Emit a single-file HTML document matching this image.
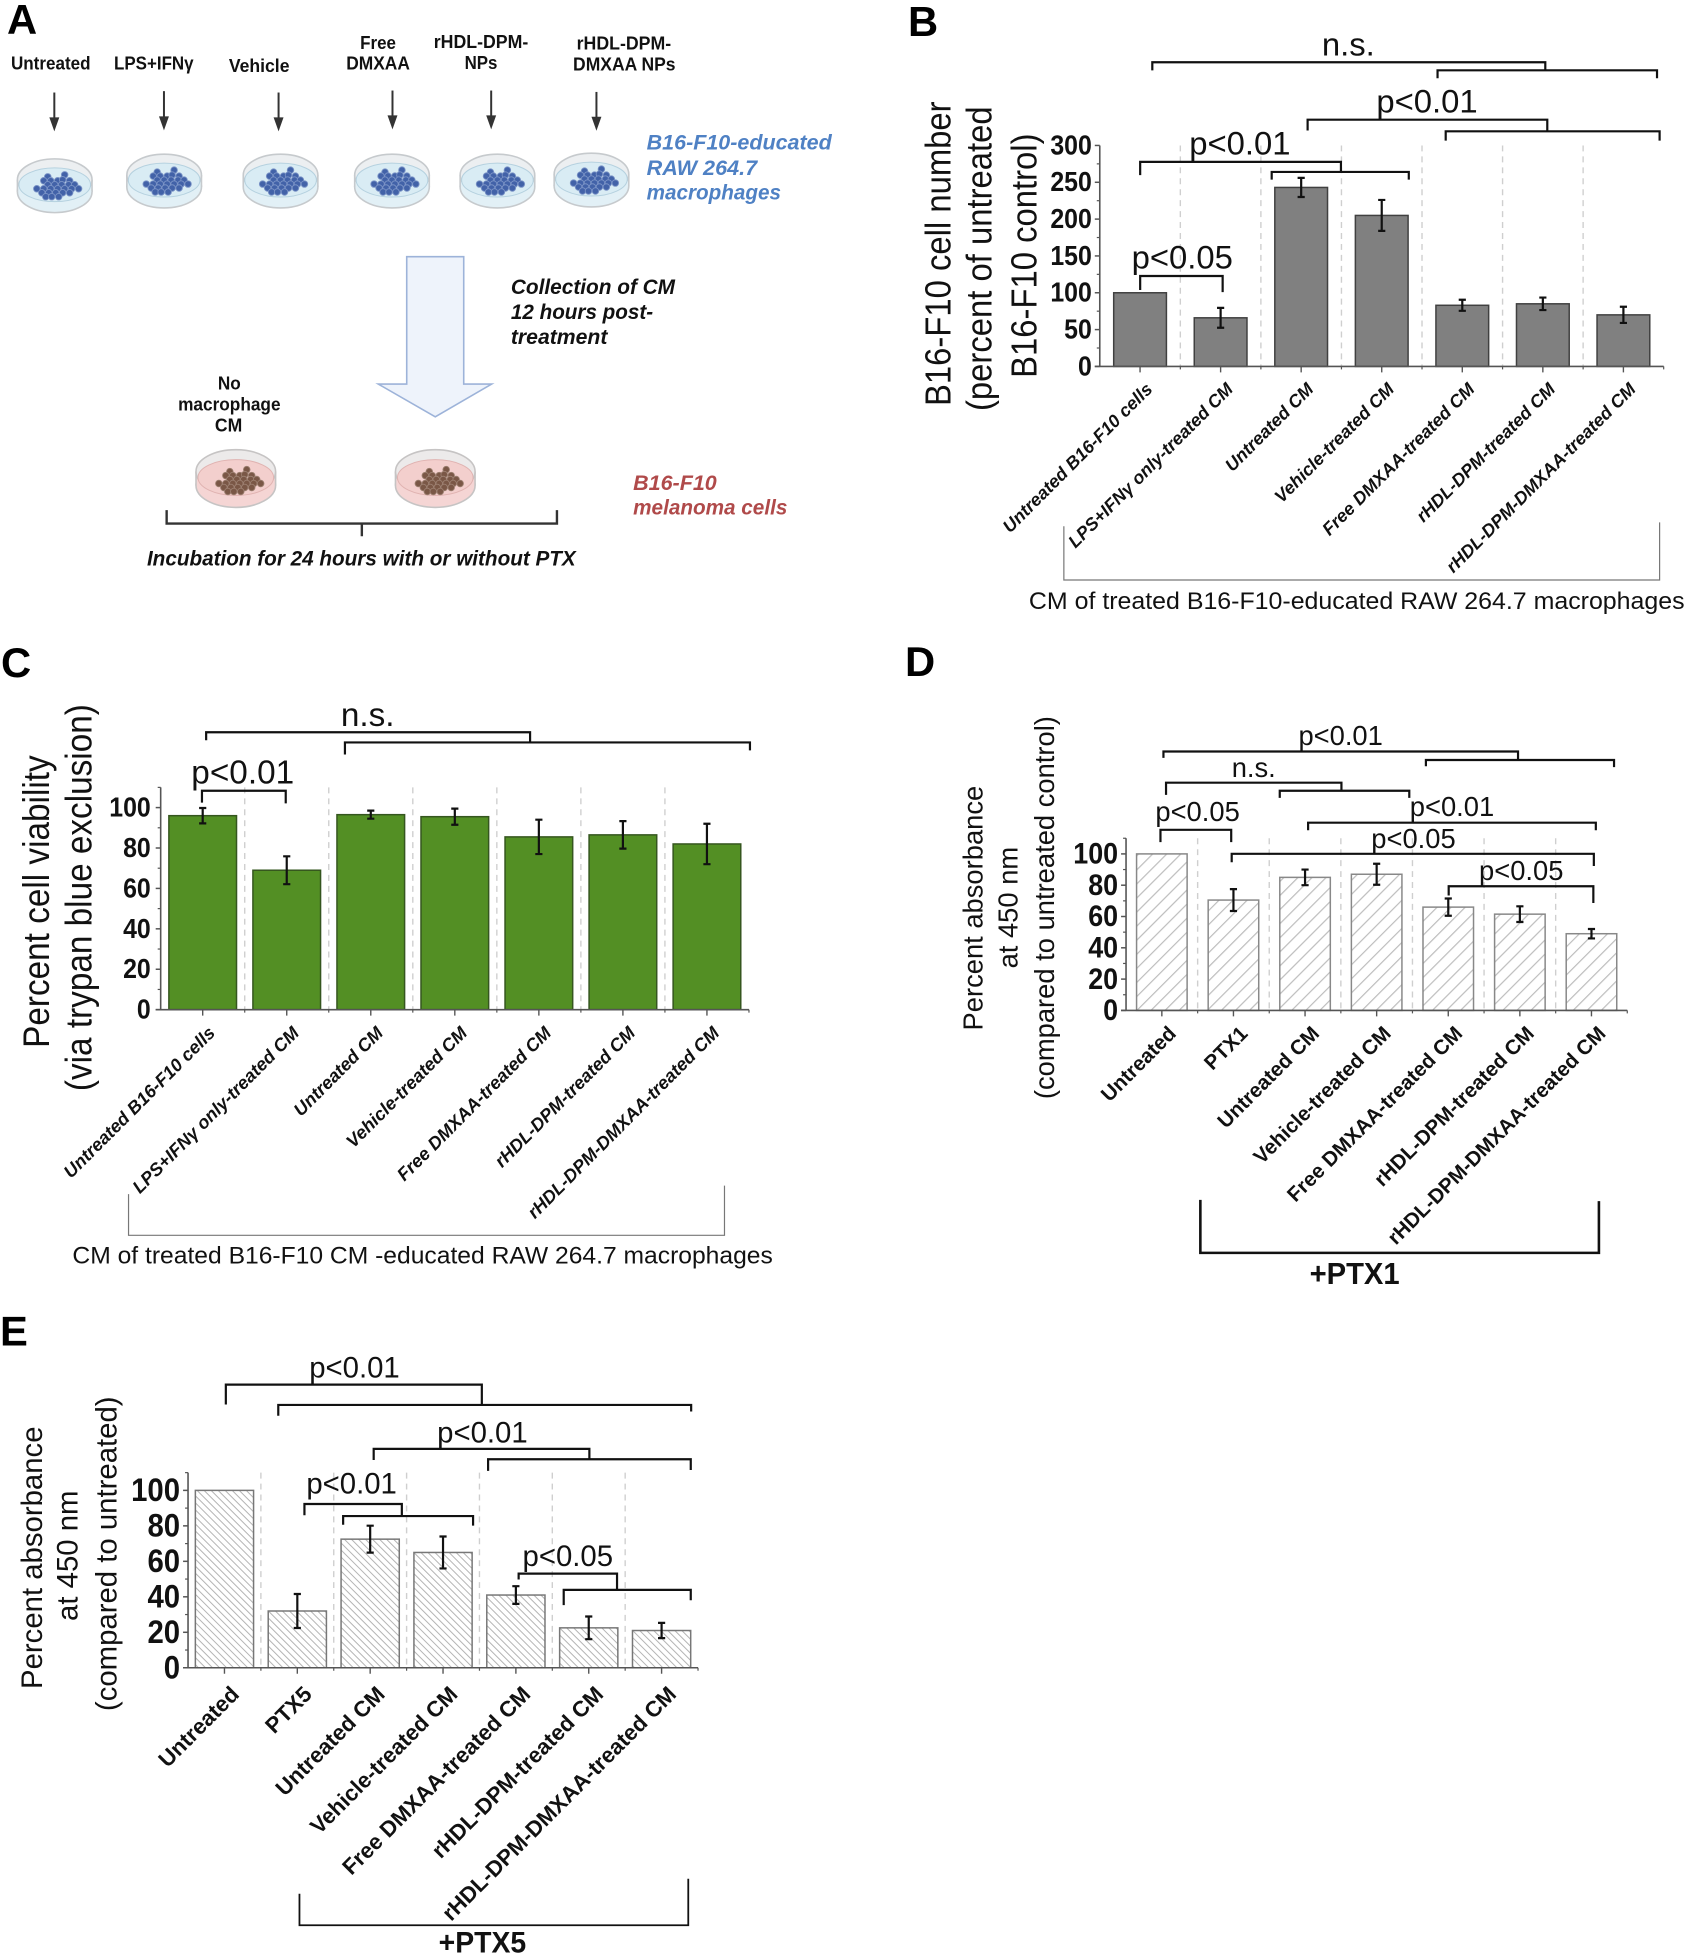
<!DOCTYPE html>
<html lang="en">
<head>
<meta charset="utf-8">
<title>Macrophage conditioned media figure</title>
<style>
html,body{margin:0;padding:0;background:#fff}
svg{display:block}
text{font-family:"Liberation Sans",sans-serif;fill:#111}
.lb{font-weight:bold;font-size:19px}
.it{font-weight:bold;font-style:italic;font-size:21.5px}
.pl{font-weight:bold;font-size:42px;fill:#000}
.br{fill:none;stroke:#111;stroke-width:2.2}
</style>
</head>
<body>
<svg id="figure" xmlns="http://www.w3.org/2000/svg" width="1693" height="1960" viewBox="0 0 1693 1960">
<defs>
<pattern id="hatch-d" patternUnits="userSpaceOnUse" width="10" height="10" patternTransform="rotate(45)">
<rect width="10" height="10" fill="#fff"/><line x1="0" y1="0" x2="0" y2="10" stroke="#bdbdbd" stroke-width="2.4"/>
</pattern>
<pattern id="hatch-e" patternUnits="userSpaceOnUse" width="5" height="5" patternTransform="rotate(-45)">
<rect width="5" height="5" fill="#fff"/><line x1="0" y1="0" x2="0" y2="5" stroke="#b4b4b4" stroke-width="2"/>
</pattern>
<g id="cells" stroke-width="0.9">
<circle cx="-9" cy="-9" r="3.3"/><circle cx="8" cy="-11" r="3.3"/><circle cx="-13" cy="-5" r="3.3"/><circle cx="-6" cy="-5" r="3.3"/><circle cx="1" cy="-5" r="3.3"/><circle cx="6" cy="-6" r="3.3"/><circle cx="13" cy="-5" r="3.3"/>
<circle cx="-9" cy="-1" r="3.3"/><circle cx="-2" cy="-1" r="3.3"/><circle cx="5" cy="-1" r="3.3"/><circle cx="12" cy="-1" r="3.3"/><circle cx="18" cy="-1" r="3.3"/>
<circle cx="-20" cy="3" r="3.3"/><circle cx="-13" cy="3" r="3.3"/><circle cx="-6" cy="3" r="3.3"/><circle cx="1" cy="3" r="3.3"/><circle cx="8" cy="3" r="3.3"/><circle cx="15" cy="3" r="3.3"/><circle cx="22" cy="3" r="3.3"/>
<circle cx="-15" cy="7" r="3.3"/><circle cx="-8" cy="7" r="3.3"/><circle cx="-1" cy="7" r="3.3"/><circle cx="6" cy="7" r="3.3"/><circle cx="13" cy="7" r="3.3"/>
<circle cx="-11" cy="11" r="3.3"/><circle cx="-5" cy="11" r="3.3"/><circle cx="2" cy="11" r="3.3"/>
</g>
<g id="dish-blue">
<ellipse cx="0" cy="6" rx="37.5" ry="21" fill="#e2f0f6" stroke="#c6cacd" stroke-width="1.6"/>
<rect x="-37.5" y="-6" width="75" height="12" fill="#e2f0f6"/>
<line x1="-37.5" y1="-6" x2="-37.5" y2="6" stroke="#c6cacd" stroke-width="1.6"/><line x1="37.5" y1="-6" x2="37.5" y2="6" stroke="#c6cacd" stroke-width="1.6"/>
<ellipse cx="0" cy="-6" rx="37.5" ry="21" fill="#eceff1" stroke="#c6cacd" stroke-width="1.6"/>
<ellipse cx="0" cy="-1" rx="36" ry="17" fill="#d9ecf4" stroke="#b5d1df" stroke-width="1"/>
<use href="#cells" fill="#4262a8" stroke="#7a93c6" x="2" y="0"/>
</g>
<g id="dish-pink">
<ellipse cx="0" cy="7" rx="40" ry="22" fill="#f5d5d4" stroke="#c6c4c4" stroke-width="1.6"/>
<rect x="-40" y="-7" width="80" height="14" fill="#f5d5d4"/>
<line x1="-40" y1="-7" x2="-40" y2="7" stroke="#c6c4c4" stroke-width="1.6"/><line x1="40" y1="-7" x2="40" y2="7" stroke="#c6c4c4" stroke-width="1.6"/>
<ellipse cx="0" cy="-7" rx="40" ry="22" fill="#eceaea" stroke="#c6c4c4" stroke-width="1.6"/>
<ellipse cx="0" cy="-1" rx="38" ry="18" fill="#f3cfcd" stroke="#e0b3b1" stroke-width="1"/>
<use href="#cells" fill="#7a5746" stroke="#9c7f70" x="3" y="2"/>
</g>
</defs>

<!-- PANEL A -->
<g id="panel-a" transform="translate(0,0) scale(.9949)">
<text class="pl" x="7" y="34">A</text>
<text class="lb" x="11" y="70" textLength="80" lengthAdjust="spacingAndGlyphs">Untreated</text>
<text class="lb" x="114.6" y="70" textLength="80" lengthAdjust="spacingAndGlyphs">LPS+IFNγ</text>
<text class="lb" x="230" y="72.4" textLength="61" lengthAdjust="spacingAndGlyphs">Vehicle</text>
<text class="lb" x="362" y="49.3" textLength="36" lengthAdjust="spacingAndGlyphs">Free</text>
<text class="lb" x="348" y="70" textLength="64" lengthAdjust="spacingAndGlyphs">DMXAA</text>
<text class="lb" x="436" y="48.5" textLength="95" lengthAdjust="spacingAndGlyphs">rHDL-DPM-</text>
<text class="lb" x="467" y="69.3" textLength="33" lengthAdjust="spacingAndGlyphs">NPs</text>
<text class="lb" x="579.6" y="50" textLength="95" lengthAdjust="spacingAndGlyphs">rHDL-DPM-</text>
<text class="lb" x="576" y="70.8" textLength="103" lengthAdjust="spacingAndGlyphs">DMXAA NPs</text>

<g stroke="#333" stroke-width="2" fill="#333">
<path d="M54.6 93V120"/><path d="M49.6 118h10l-5 14z" stroke="none"/>
<path d="M164.8 91.6V118"/><path d="M159.8 117h10l-5 14z" stroke="none"/>
<path d="M280 93V120"/><path d="M275 118h10l-5 14z" stroke="none"/>
<path d="M394.5 91V118"/><path d="M389.5 116h10l-5 14z" stroke="none"/>
<path d="M493.7 91V118"/><path d="M488.7 116h10l-5 14z" stroke="none"/>
<path d="M599.5 92.4V119"/><path d="M594.5 117.4h10l-5 14z" stroke="none"/>
</g>

<use href="#dish-blue" x="55" y="186.7"/>
<use href="#dish-blue" x="165" y="182"/>
<use href="#dish-blue" x="282" y="182"/>
<use href="#dish-blue" x="394" y="182"/>
<use href="#dish-blue" x="500" y="182"/>
<use href="#dish-blue" x="594.5" y="181"/>

<g style="fill:#4f81c4">
<text class="it" x="650" y="150.5" textLength="186" lengthAdjust="spacingAndGlyphs" style="fill:#4f81c4">B16-F10-educated</text>
<text class="it" x="650" y="175.8" textLength="111" lengthAdjust="spacingAndGlyphs" style="fill:#4f81c4">RAW 264.7</text>
<text class="it" x="650" y="200.5" textLength="135" lengthAdjust="spacingAndGlyphs" style="fill:#4f81c4">macrophages</text>
</g>

<path d="M408.8 258H466.1V386H494.2L437.5 419L380.2 386H408.8Z" fill="#eef3fb" stroke="#9db3d9" stroke-width="1.6"/>
<text class="it" x="513.5" y="295.7" textLength="165" lengthAdjust="spacingAndGlyphs">Collection of CM</text>
<text class="it" x="513.5" y="320.7" textLength="143" lengthAdjust="spacingAndGlyphs">12 hours post-</text>
<text class="it" x="513.5" y="345.7" textLength="97" lengthAdjust="spacingAndGlyphs">treatment</text>

<text class="lb" x="219" y="391.5" textLength="23" lengthAdjust="spacingAndGlyphs">No</text>
<text class="lb" x="179" y="412.5" textLength="103" lengthAdjust="spacingAndGlyphs">macrophage</text>
<text class="lb" x="216" y="433.5" textLength="27.5" lengthAdjust="spacingAndGlyphs">CM</text>

<use href="#dish-pink" x="237" y="481"/>
<use href="#dish-pink" x="437.5" y="481"/>

<text class="it" x="636.4" y="492.3" textLength="84" lengthAdjust="spacingAndGlyphs" style="fill:#b04a4a">B16-F10</text>
<text class="it" x="636.4" y="517.3" textLength="155" lengthAdjust="spacingAndGlyphs" style="fill:#b04a4a">melanoma cells</text>

<path d="M167.5 512.8V526.3H559.8V512.8M363.7 526.3V539" fill="none" stroke="#333" stroke-width="2.4"/>
<text class="it" x="147.7" y="568.5" textLength="431" lengthAdjust="spacingAndGlyphs">Incubation for 24 hours with or without PTX</text>
</g>

<!-- PANEL B -->
<g id="panel-b" transform="translate(900,0) scale(.9949) translate(-900,0)">
<text class="pl" x="908" y="36">B</text>
<g id="plot-b"></g>
<g font-size="33">
<text transform="translate(951,255) rotate(-90) scale(1,1.1)" text-anchor="middle">B16-F10 cell number</text>
<text transform="translate(992,260) rotate(-90) scale(1,1.1)" text-anchor="middle">(percent of untreated</text>
<text transform="translate(1037,257) rotate(-90) scale(1,1.1)" text-anchor="middle">B16-F10 control)</text>
<text x="1324" y="56">n.s.</text>
<text x="1378.8" y="113">p&lt;0.01</text>
<text x="1190.7" y="155.5">p&lt;0.01</text>
<text x="1132.8" y="270">p&lt;0.05</text>
</g>
<path class="br" d="M1153.6 70.7V62.6H1548.6V70.7"/>
<path class="br" d="M1440.3 78.7V70.7H1660.9V78.7"/>
<path class="br" d="M1309.7 131.2V120.3H1550.6V132"/>
<path class="br" d="M1448.5 141.3V132H1663.5V141.3"/>
<path class="br" d="M1141.4 176V162.7H1343.2V172.8"/>
<path class="br" d="M1273.6 180.5V172.8H1411.4V180.5"/>
<path class="br" d="M1141.4 291.5V277.4H1224.3V293.6"/>
<path d="M1064.7 529V583H1663.5V525" fill="none" stroke="#777" stroke-width="1.2"/>
<text x="1029.6" y="612" font-size="24" textLength="659" lengthAdjust="spacingAndGlyphs">CM of treated B16-F10-educated RAW 264.7 macrophages</text>
</g>

<!-- PANEL C -->
<g id="panel-c" transform="translate(0,630) scale(.9949) translate(0,-630)">
<text class="pl" x="1" y="677">C</text>
<g id="plot-c"></g>
<g font-size="33.5">
<text transform="translate(49,903) rotate(-90) scale(1,1.1)" text-anchor="middle">Percent cell viability</text>
<text transform="translate(92,899) rotate(-90) scale(1,1.1)" text-anchor="middle">(via trypan blue exclusion)</text>
<text x="342.6" y="726.5">n.s.</text>
<text x="192.3" y="784.4">p&lt;0.01</text>
</g>
<path class="br" d="M207.2 740.8V732.8H532.8V743"/>
<path class="br" d="M346.7 755.2V743H753.8V751"/>
<path class="br" d="M203 803.5V791.6H287.2V804.3"/>
<path d="M129.2 1197V1238.4H728.2V1188.5" fill="none" stroke="#777" stroke-width="1.2"/>
<text x="72.8" y="1266.8" font-size="24" textLength="704" lengthAdjust="spacingAndGlyphs">CM of treated B16-F10 CM -educated RAW 264.7 macrophages</text>
</g>

<!-- PANEL D -->
<g id="panel-d" transform="translate(900,640) scale(.9949) translate(-900,-640)">
<text class="pl" x="905" y="676">D</text>
<g id="plot-d"></g>
<g font-size="27.5">
<text transform="translate(983,909.5) rotate(-90)" text-anchor="middle">Percent absorbance</text>
<text transform="translate(1018,909) rotate(-90)" text-anchor="middle">at 450 nm</text>
<text transform="translate(1055,909) rotate(-90)" text-anchor="middle">(compared to untreated control)</text>
<text x="1300.5" y="745.5">p&lt;0.01</text>
<text x="1233.4" y="777.5">n.s.</text>
<text x="1156.7" y="822">p&lt;0.05</text>
<text x="1412.4" y="816.9">p&lt;0.01</text>
<text x="1373.7" y="849">p&lt;0.05</text>
<text x="1482" y="881.2">p&lt;0.05</text>
</g>
<path class="br" d="M1164.8 758.5V752.1H1521.2V760.6"/>
<path class="br" d="M1428.6 766.9V760.6H1617.7V767.8"/>
<path class="br" d="M1167.4 795.7V783.4H1343.7V791.5"/>
<path class="br" d="M1281.7 798.7V791.5H1411.9V798.7"/>
<path class="br" d="M1161.8 843.1V830.8H1232.9V843.1"/>
<path class="br" d="M1310.2 831.2V823.6H1599.4V831.2"/>
<path class="br" d="M1233.4 863.4V854.9H1597.4V867.2"/>
<path class="br" d="M1451.5 896.8V887.5H1596.9V904.4"/>
<path d="M1201.9 1202.7V1256H1602.5V1204" fill="none" stroke="#111" stroke-width="2.6"/>
<text x="1311.7" y="1287.3" font-size="31" font-weight="bold" textLength="90.5" lengthAdjust="spacingAndGlyphs">+PTX1</text>
</g>

<!-- PANEL E -->
<g id="panel-e" transform="translate(0,1310) scale(.9949) translate(0,-1310)">
<text class="pl" x="0" y="1345.5">E</text>
<g id="plot-e"></g>
<g font-size="29.5">
<text transform="translate(42,1559) rotate(-90)" text-anchor="middle">Percent absorbance</text>
<text transform="translate(78,1557) rotate(-90)" text-anchor="middle">at 450 nm</text>
<text transform="translate(117,1555) rotate(-90)" text-anchor="middle">(compared to untreated)</text>
<text x="310.8" y="1378">p&lt;0.01</text>
<text x="439.4" y="1443.3">p&lt;0.01</text>
<text x="307.9" y="1494.2">p&lt;0.01</text>
<text x="525.2" y="1567.5">p&lt;0.05</text>
</g>
<path class="br" d="M227 1405V1385H484.3V1405.4"/>
<path class="br" d="M279.7 1416.3V1405.4H694.7V1412"/>
<path class="br" d="M375.6 1460.8V1449.6H592.4V1460"/>
<path class="br" d="M490.6 1471.7V1460H694.3V1470.8"/>
<path class="br" d="M306 1516.3V1505H403.9V1517.1"/>
<path class="br" d="M344.9 1525.9V1517.1H475.5V1526.7"/>
<path class="br" d="M521.3 1580.9V1575H620.2V1590.9"/>
<path class="br" d="M566.6 1606.7V1591.3H694.3V1601.7"/>
<path d="M301 1896.7V1928.4H691.8V1881.7" fill="none" stroke="#111" stroke-width="1.8"/>
<text x="440.9" y="1956" font-size="30" font-weight="bold" textLength="88" lengthAdjust="spacingAndGlyphs">+PTX5</text>
</g>
</svg>

<script>
// Panel B data
const bCategories = ["Untreated B16-F10 cells","LPS+IFNγ only-treated CM","Untreated CM","Vehicle-treated CM","Free DMXAA-treated CM","rHDL-DPM-treated CM","rHDL-DPM-DMXAA-treated CM"];
const bValues = [100,66,243,205,83,85,70];
const bErrors = [0,13.5,13,21,7.5,8.5,11];
const bTicks = [0,50,100,150,200,250,300];
// Panel C data
const cCategories = ["Untreated B16-F10 cells","LPS+IFNγ only-treated CM","Untreated CM","Vehicle-treated CM","Free DMXAA-treated CM","rHDL-DPM-treated CM","rHDL-DPM-DMXAA-treated CM"];
const cValues = [96,69,96.5,95.5,85.5,86.5,82];
const cErrors = [3.8,6.9,2,4,8.5,6.8,10];
const cTicks = [0,20,40,60,80,100];
// Panel D data
const dCategories = ["Untreated","PTX1","Untreated CM","Vehicle-treated CM","Free DMXAA-treated CM","rHDL-DPM-treated CM","rHDL-DPM-DMXAA-treated CM"];
const dValues = [100,70.5,85,87,66,61.5,49];
const dErrors = [0,7,5,6.7,5.5,5,3];
const dTicks = [0,20,40,60,80,100];
// Panel E data
const eCategories = ["Untreated","PTX5","Untreated CM","Vehicle-treated CM","Free DMXAA-treated CM","rHDL-DPM-treated CM","rHDL-DPM-DMXAA-treated CM"];
const eValues = [100,32,72.5,65,41,22.5,21];
const eErrors = [0,9.6,7.6,9,5,6.4,4.3];
const eTicks = [0,20,40,60,80,100];

const SVGNS = "http://www.w3.org/2000/svg";

function make(parent, tag, attrs, name) {
  const el = document.createElementNS(SVGNS, tag);
  for (const k in attrs) el.setAttribute(k, attrs[k]);
  
  
  parent.appendChild(el);
  return el;
}

function drawPlot(opt) {
  const root = document.getElementById(opt.target);
  const n = opt.categories.length;
  const step = (opt.x1 - opt.x0) / n;
  const bandCenter = i => opt.x0 + (i + 0.5) * step;
  const bandEdge = i => opt.x0 + i * step;
  const yScale = v => opt.y0 + (opt.yRef - opt.y0) * v / opt.vRef;
  const topY = yScale(opt.axisMax);
  const p = opt.key;

  for (let i = 1; i < n; i++) {
    make(root, 'line', {x1: bandEdge(i), x2: bandEdge(i), y1: topY, y2: opt.y0, stroke: '#cfcfcf', 'stroke-width': 1.4, 'stroke-dasharray': '6 5'}, p + '-separator-' + i);
  }
  opt.values.forEach((v, i) => {
    const top = yScale(v);
    make(root, 'rect', {x: bandCenter(i) - opt.barWidth / 2, y: top, width: opt.barWidth, height: opt.y0 - top, fill: opt.fill, stroke: opt.stroke, 'stroke-width': 1.5}, p + '-bar-' + (i + 1));
  });
  opt.errors.forEach((e, i) => {
    if (!e) return;
    const c = bandCenter(i);
    const hi = yScale(opt.values[i] + e);
    const lo = yScale(opt.values[i] - e);
    make(root, 'path', {d: 'M' + c + ' ' + hi + 'V' + lo + 'M' + (c - 3.6) + ' ' + hi + 'h7.2M' + (c - 3.6) + ' ' + lo + 'h7.2', fill: 'none', stroke: '#111', 'stroke-width': 2.2}, p + '-error-bar-' + (i + 1));
  });
  make(root, 'line', {x1: opt.x0, x2: opt.x0, y1: topY, y2: opt.y0, stroke: '#555', 'stroke-width': 1.6}, p + '-y-axis');
  make(root, 'line', {x1: opt.x0 - 5, x2: opt.x1, y1: opt.y0, y2: opt.y0, stroke: '#555', 'stroke-width': 1.6}, p + '-x-axis');

  opt.ticks.forEach((t, i) => {
    const y = yScale(t);
    make(root, 'line', {x1: opt.x0 - 5, x2: opt.x0, y1: y, y2: y, stroke: '#555', 'stroke-width': 1.5}, p + '-y-tick-' + t);
    if (i < opt.ticks.length - 1 || opt.axisMax > t) {
      const my = yScale(t + (opt.ticks[1] - opt.ticks[0]) / 2);
      make(root, 'line', {x1: opt.x0 - 3, x2: opt.x0, y1: my, y2: my, stroke: '#555', 'stroke-width': 1.2}, p + '-y-minor-tick-' + t);
    }
    const label = make(root, 'text', {x: opt.x0 - opt.tickGap, y: y + opt.tickFont * 0.36, 'text-anchor': 'end', 'font-size': opt.tickFont * 1.1, 'font-weight': 'bold', textLength: String(t).length * opt.tickFont * 0.556, lengthAdjust: 'spacingAndGlyphs'}, p + '-y-tick-label-' + t);
    label.textContent = t;
  });

  opt.categories.forEach((c, i) => {
    const cx = bandCenter(i);
    make(root, 'line', {x1: cx, x2: cx, y1: opt.y0, y2: opt.y0 + 6, stroke: '#555', 'stroke-width': 1.4}, p + '-x-tick-' + (i + 1));
    make(root, 'line', {x1: bandEdge(i + 1), x2: bandEdge(i + 1), y1: opt.y0, y2: opt.y0 + 3, stroke: '#555', 'stroke-width': 1.2}, p + '-x-minor-tick-' + (i + 1));
    const ax = cx + opt.labelDx;
    const ay = opt.y0 + opt.labelDy;
    const label = make(root, 'text', {transform: 'translate(' + ax + ',' + ay + ') rotate(-45)', 'text-anchor': 'end', 'font-size': opt.labelFont, 'font-weight': 'bold', 'font-style': opt.labelStyle}, p + '-category-label-' + (i + 1));
    label.textContent = c;
  });
}

drawPlot({target: 'plot-b', key: 'b', categories: bCategories, values: bValues, errors: bErrors, ticks: bTicks,
  x0: 1100.8, x1: 1667.6, y0: 368.3, yRef: 146.2, vRef: 300, axisMax: 300, barWidth: 53,
  fill: '#808080', stroke: '#404040', tickFont: 25, tickGap: 8, labelDx: 13.5, labelDy: 24, labelFont: 18, labelStyle: 'italic'});
drawPlot({target: 'plot-c', key: 'c', categories: cCategories, values: cValues, errors: cErrors, ticks: cTicks,
  x0: 161.5, x1: 752.8, y0: 1011.6, yRef: 808.5, vRef: 100, axisMax: 110, barWidth: 68,
  fill: '#538f24', stroke: '#35561f', tickFont: 25, tickGap: 10, labelDx: 13.5, labelDy: 24.5, labelFont: 18.2, labelStyle: 'italic'});
drawPlot({target: 'plot-d', key: 'd', categories: dCategories, values: dValues, errors: dErrors, ticks: dTicks,
  x0: 1127.2, x1: 1631, y0: 1012.3, yRef: 855, vRef: 100, axisMax: 110, barWidth: 50.8,
  fill: 'url(#hatch-d)', stroke: '#888', tickFont: 27, tickGap: 8, labelDx: 15.5, labelDy: 24.5, labelFont: 20.7, labelStyle: 'normal'});
drawPlot({target: 'plot-e', key: 'e', categories: eCategories, values: eValues, errors: eErrors, ticks: eTicks,
  x0: 189, x1: 701.6, y0: 1669.6, yRef: 1491.3, vRef: 100, axisMax: 110, barWidth: 58.5,
  fill: 'url(#hatch-e)', stroke: '#777', tickFont: 29.5, tickGap: 8, labelDx: 16, labelDy: 28, labelFont: 22.2, labelStyle: 'normal'});
</script>
</body>
</html>
